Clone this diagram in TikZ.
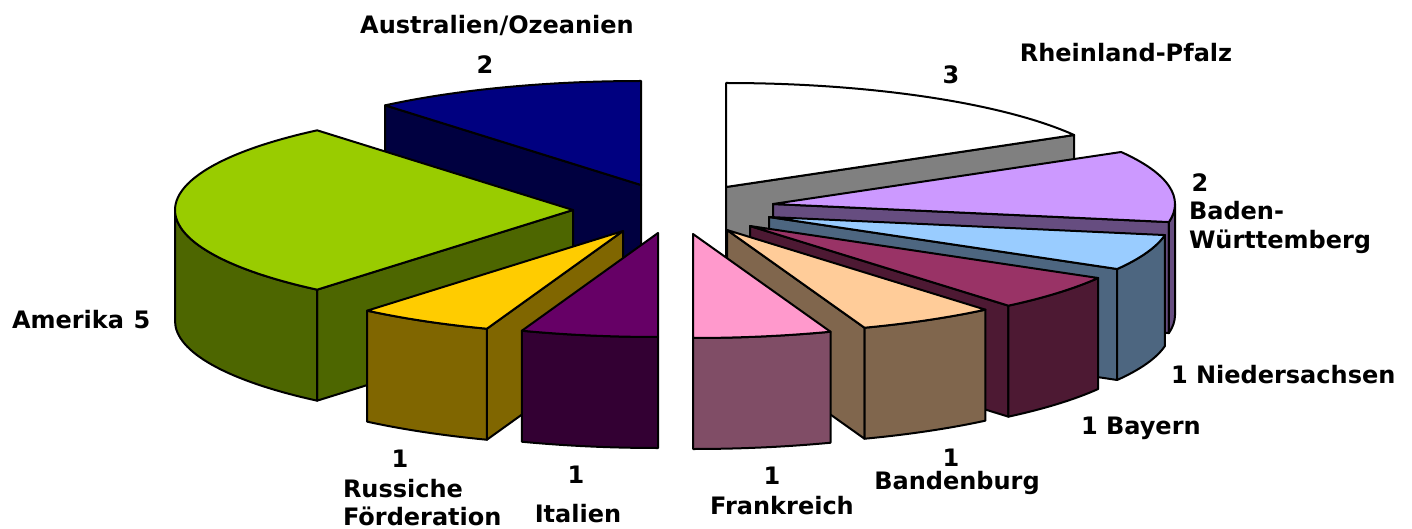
\documentclass[tikz,border=0pt]{standalone}
\usepackage{fontspec}
\setmainfont{DejaVu Sans}
\usetikzlibrary{calc}
\definecolor{navytop}{HTML}{000080}
\definecolor{navyside}{HTML}{000040}
\definecolor{greentop}{HTML}{99CC00}
\definecolor{greenside}{HTML}{4D6600}
\definecolor{yellowtop}{HTML}{FFCC00}
\definecolor{yellowside}{HTML}{806600}
\definecolor{purpletop}{HTML}{660066}
\definecolor{purpleside}{HTML}{330033}
\definecolor{greyside}{HTML}{808080}
\definecolor{lilactop}{HTML}{CC99FF}
\definecolor{lilacside}{HTML}{664D80}
\definecolor{bluetop}{HTML}{99CCFF}
\definecolor{blueside}{HTML}{4D6680}
\definecolor{maroontop}{HTML}{993366}
\definecolor{maroonside}{HTML}{4D1933}
\definecolor{peachtop}{HTML}{FFCC99}
\definecolor{peachside}{HTML}{80664D}
\definecolor{pinktop}{HTML}{FF99CC}
\definecolor{pinkside}{HTML}{804D66}
% #1 colour, #2 apex, #3 start angle, #4 end angle, #5 x radius
\newcommand\PieTop[5]{%
  \path[face=#1] (#2) -- ($(#2)+(#3:#5 and 104)$)
    arc[start angle=#3,end angle=#4,x radius=#5,y radius=104] -- cycle;}
% #1 colour, #2 apex, #3 angle, #4 x radius
\newcommand\PieRad[4]{%
  \path[face=#1] (#2) -- ($(#2)+(#3:#4 and 104)$) -- ($(#2)+(#3:#4 and 104)+(0,111)$)
    -- ($(#2)+(0,111)$) -- cycle;}
% #1 colour, #2 apex, #3 start angle, #4 end angle, #5 x radius
\newcommand\PieCurv[5]{%
  \path[face=#1] ($(#2)+(#3:#5 and 104)$)
    arc[start angle=#3,end angle=#4,x radius=#5,y radius=104] -- ++(0,111)
    arc[start angle=#4,end angle=#3,x radius=#5,y radius=104] -- cycle;}
\begin{document}
\begin{tikzpicture}[x=0.5pt,y=-0.5pt,line width=1pt,line join=round,
  face/.style={draw=black,fill=#1},
  lbl/.style={font=\fontsize{12}{14}\selectfont\bfseries,inner sep=0pt,anchor=base},
  lblw/.style={lbl,anchor=base west}]
\useasboundingbox[fill=white] (0,0) rectangle (1412,529);
% apexes of the exploded slices
\coordinate (N) at (641,185);
\coordinate (G) at (573,210);
\coordinate (Y) at (623,231);
\coordinate (P) at (658,233);
\coordinate (W) at (726,187);
\coordinate (V) at (773,204);
\coordinate (L) at (769,217);
\coordinate (M) at (750,226);
\coordinate (E) at (727,230);
\coordinate (K) at (693,234);
% ---------------- left pie ----------------
\PieRad{navyside}{N}{230}{398}
\PieTop{navytop}{N}{230}{270}{398}
\PieRad{greenside}{G}{130}{398}
\PieCurv{greenside}{G}{180}{130}{398}
\PieTop{greentop}{G}{230}{130}{398}
\PieRad{yellowside}{Y}{110}{398}
\PieCurv{yellowside}{Y}{130}{110}{398}
\PieTop{yellowtop}{Y}{130}{110}{398}
\PieCurv{purpleside}{P}{110}{90}{398}
\PieTop{purpletop}{P}{110}{90}{398}
% ---------------- right pie ----------------
\PieRad{greyside}{W}{-30}{402}
\PieTop{white}{W}{-90}{-30}{402}
\PieRad{lilacside}{V}{10}{402}
\PieCurv{lilacside}{V}{0}{10}{402}
\PieTop{lilactop}{V}{-30}{10}{402}
\PieRad{blueside}{L}{30}{402}
\PieCurv{blueside}{L}{10}{30}{402}
\PieTop{bluetop}{L}{10}{30}{402}
\PieRad{maroonside}{M}{50}{402}
\PieCurv{maroonside}{M}{30}{50}{402}
\PieTop{maroontop}{M}{30}{50}{402}
\PieRad{peachside}{E}{70}{402}
\PieCurv{peachside}{E}{50}{70}{402}
\PieTop{peachtop}{E}{50}{70}{402}
\PieCurv{pinkside}{K}{70}{90}{402}
\PieTop{pinktop}{K}{70}{90}{402}
% ---------------- labels ----------------
\node[lbl] (tAus) at (497,34) {Australien/Ozeanien};
\node[lbl] (vAus) at (485,74) {2};
\node[lblw] (tAm) at (11,328) {Amerika};
\node[lbl] (vAm) at (142,328) {5};
\node[lbl] (vRu) at (400,467) {1};
\node[lblw] (tRu1) at (342,497) {Russiche};
\node[lblw] (tRu2) at (342,525) {Förderation};
\node[lbl] (vIt) at (576,483) {1};
\node[lbl] (tIt) at (578,522) {Italien};
\node[lbl] (vFr) at (772,484) {1};
\node[lbl] (tFr) at (782,514) {Frankreich};
\node[lbl] (vBb) at (951,466) {1};
\node[lbl] (tBb) at (957,489) {Bandenburg};
\node[lbl] (vRP) at (951,84) {3};
\node[lbl] (tRP) at (1126,62) {Rheinland-Pfalz};
\node[lbl] (vBW) at (1200,192) {2};
\node[lblw] (tBW1) at (1188,220) {Baden-};
\node[lblw] (tBW2) at (1188,249) {Württemberg};
\node[lblw] (tNi) at (1170,383) {1 Niedersachsen};
\node[lblw] (tBy) at (1080,434) {1 Bayern};
\end{tikzpicture}
\end{document}
